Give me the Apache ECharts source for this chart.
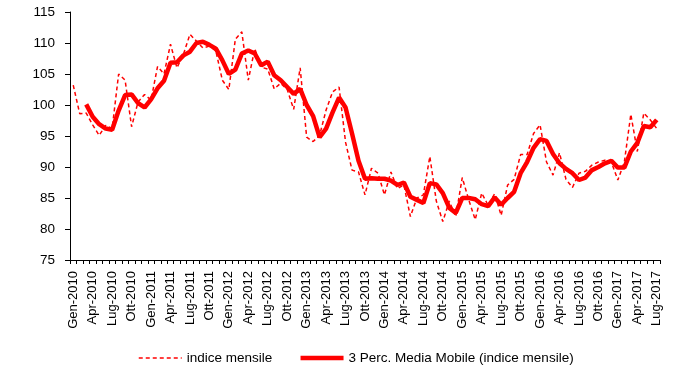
<!DOCTYPE html>
<html><head><meta charset="utf-8">
<script src="https://cdn.jsdelivr.net/npm/echarts@6/dist/echarts.min.js"></script>
<style>html,body{margin:0;padding:0;background:#fff}#c{width:700px;height:370px}</style>
</head><body><div id="c"></div>
<script>
const monthNames = ["Gen","Feb","Mar","Apr","Mag","Giu","Lug","Ago","Set","Ott","Nov","Dic"];
const years = [2010,2011,2012,2013,2014,2015,2016,2017];
const categories = [];
for (const y of years) for (const m of monthNames) { if (categories.length < 91) categories.push(m + "-" + y); }

const indiceMensile = [
103.2, 98.6, 98.7, 96.8, 95.1, 96.7, 96.2, 105.0, 104.0, 96.5, 100.5, 101.7,
100.8, 106.2, 105.0, 109.8, 106.0, 108.2, 111.4, 110.3, 109.2, 109.5, 108.7, 104.0,
102.5, 110.6, 111.8, 104.0, 109.1, 106.1, 105.8, 102.6, 103.5, 102.5, 99.3, 106.0,
94.8, 94.1, 95.1, 99.2, 102.1, 102.9, 94.0, 89.5, 89.2, 85.5, 89.8, 89.0,
85.5, 89.2, 86.5, 87.1, 82.0, 85.0, 85.5, 91.7, 84.5, 81.2, 84.5, 82.0,
88.3, 84.7, 81.5, 85.8, 83.8, 85.7, 82.2, 87.1, 88.0, 92.0, 92.0, 95.4,
96.8, 90.8, 88.7, 92.3, 88.0, 86.7, 89.0, 89.3, 90.3, 90.8, 91.1, 90.8,
87.9, 90.8, 98.5, 92.5, 98.7, 97.6, 96.2
];
const mediaMobile = [
null, null, 100.1, 98.1, 96.9, 96.2, 96.0, 99.1, 101.6, 101.7, 100.3, 99.6,
100.9, 102.7, 103.9, 106.8, 106.9, 108.0, 108.6, 110.0, 110.2, 109.7, 109.1, 107.2,
105.0, 105.7, 108.3, 108.8, 108.3, 106.4, 107.0, 104.8, 104.0, 102.9, 101.8, 102.6,
100.0, 98.2, 94.8, 96.2, 98.8, 101.2, 99.6, 95.4, 91.0, 88.1, 88.2, 88.1,
88.1, 87.8, 87.1, 87.5, 85.2, 84.7, 84.2, 87.4, 87.2, 85.8, 83.4, 82.6,
85.0, 85.0, 84.8, 84.0, 83.7, 85.1, 83.9, 85.0, 86.0, 89.0, 90.8, 93.1,
94.5, 94.2, 92.1, 90.6, 89.7, 89.0, 87.9, 88.3, 89.5, 90.0, 90.6, 91.0,
89.9, 89.9, 92.5, 93.9, 96.6, 96.4, 97.6
];
const seriesNames = ["indice mensile", "3 Perc. Media Mobile (indice mensile)"];

const font = "'Liberation Sans', Arial, sans-serif";
const chart = echarts.init(document.getElementById('c'), null, {renderer:'canvas'});
chart.setOption({
  animation: false,
  backgroundColor: '#fff',
  textStyle: {fontFamily: font},
  grid: {left: 70, top: 12, width: 590, height: 248, containLabel: false},
  legend: {
    left: 133, top: 346, itemWidth: 43, itemHeight: 10, itemGap: 26, itemTextGap: 5,
    itemStyle: {opacity: 0},
    textStyle: {fontFamily: font, fontSize: 13.5, color: '#000'},
    data: [
      {name: seriesNames[0], lineStyle: {width: 1.5, type: [4, 3], color: '#ff0000'}},
      {name: seriesNames[1], lineStyle: {width: 4.5, color: '#ff0000'}}
    ]
  },
  xAxis: {
    type: 'category', data: categories, boundaryGap: true,
    axisLine: {lineStyle: {color: '#000', width: 1}},
    axisTick: {show: true, interval: 0, length: 4, lineStyle: {color: '#000'}},
    axisLabel: {interval: 2, rotate: 90, margin: 11, fontSize: 13, color: '#000', fontFamily: font},
    splitLine: {show: false}
  },
  yAxis: {
    type: 'value', min: 75, max: 115, interval: 5,
    axisLine: {show: true, lineStyle: {color: '#000', width: 1}},
    axisTick: {show: true, length: 5, lineStyle: {color: '#000'}},
    axisLabel: {fontSize: 13.5, color: '#000', margin: 15, fontFamily: font},
    splitLine: {show: false}
  },
  series: [
    {name: seriesNames[0], type: 'line', data: indiceMensile, symbol: 'none',
     lineStyle: {color: '#ff0000', width: 1.5, type: [4, 3]}, itemStyle: {color: '#ff0000'}},
    {name: seriesNames[1], type: 'line', data: mediaMobile, symbol: 'none',
     lineStyle: {color: '#ff0000', width: 4.5}, itemStyle: {color: '#ff0000'}}
  ]
});
</script></body></html>
